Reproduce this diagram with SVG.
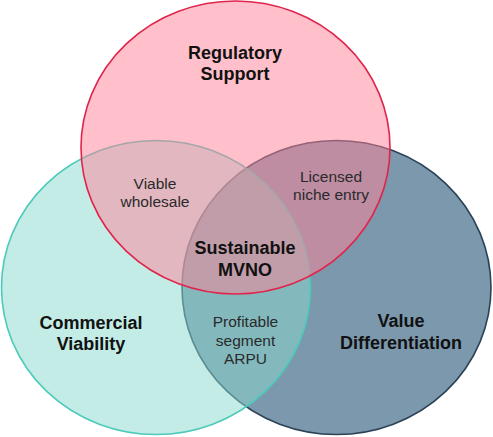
<svg xmlns="http://www.w3.org/2000/svg" width="493" height="437" viewBox="0 0 493 437">
  <style>
    .bold { font-family: "Liberation Sans", Arial, sans-serif; font-weight: bold; font-size: 18px; fill: #111; text-anchor: middle; }
    .reg { font-family: "Liberation Sans", Arial, sans-serif; font-size: 15.5px; fill: #2a2a2a; text-anchor: middle; }
    .ring { stroke-width: 1.6; }
  </style>
  <rect width="493" height="437" fill="#ffffff"/>
  <g id="value-differentiation">
    <ellipse class="ring" cx="336.5" cy="287.5" rx="154.5" ry="147" fill="#456C8A" fill-opacity="0.7" stroke="#2B4257"/>
    <text class="bold" x="401" y="327">Value</text>
    <text class="bold" x="401" y="349">Differentiation</text>
  </g>
  <g id="commercial-viability">
    <ellipse class="ring" cx="156" cy="287.5" rx="154.5" ry="147" fill="#89D9CD" fill-opacity="0.5" stroke="#4CCABB"/>
    <text class="bold" x="91" y="329">Commercial</text>
    <text class="bold" x="91" y="350">Viability</text>
  </g>
  <g id="regulatory-support">
    <ellipse class="ring" cx="235.5" cy="147.5" rx="154.5" ry="146.5" fill="#FF8197" fill-opacity="0.5" stroke="#E0244C"/>
    <text class="bold" x="235" y="59">Regulatory</text>
    <text class="bold" x="235" y="80">Support</text>
  </g>
  <g id="viable-wholesale">
    <text class="reg" x="155" y="189">Viable</text>
    <text class="reg" x="155" y="207">wholesale</text>
  </g>
  <g id="licensed-niche-entry">
    <text class="reg" x="331" y="182">Licensed</text>
    <text class="reg" x="331" y="200">niche entry</text>
  </g>
  <g id="sustainable-mvno">
    <text class="bold" x="245" y="254">Sustainable</text>
    <text class="bold" x="245" y="276">MVNO</text>
  </g>
  <g id="profitable-segment-arpu">
    <text class="reg" x="245.5" y="327">Profitable</text>
    <text class="reg" x="245.5" y="345.5">segment</text>
    <text class="reg" x="245.5" y="364">ARPU</text>
  </g>
  <g id="connectors"></g>
</svg>
